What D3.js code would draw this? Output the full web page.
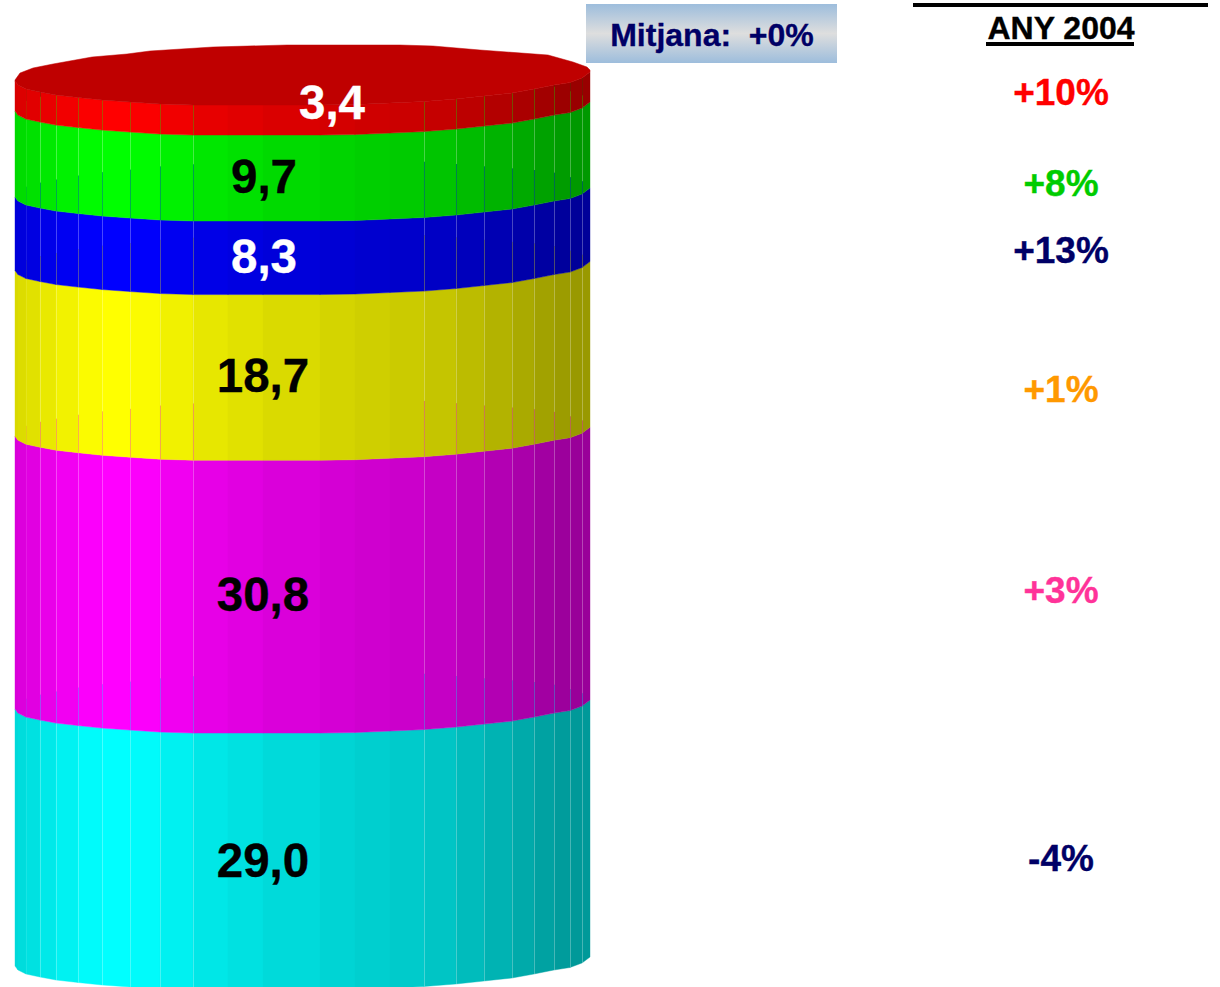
<!DOCTYPE html>
<html><head><meta charset="utf-8">
<script src="https://cdn.jsdelivr.net/npm/d3@7"></script>
<style>html,body{margin:0;padding:0;background:#fff;overflow:hidden}svg{display:block}text{font-family:"Liberation Sans",Arial,sans-serif;font-weight:bold;stroke:currentColor;stroke-width:.35px}</style>
</head><body><svg id="c" width="1220" height="987"></svg>
<script>
// bottom to top
const categories=["cian","magenta","groc","blau","verd","vermell"];
const values=[29.0,30.8,18.7,8.3,9.7,3.4];
const valueLabels=["29,0","30,8","18,7","8,3","9,7","3,4"];
const changes=["-4%","+3%","+1%","+13%","+8%","+10%"];
const headerLines=["VARIACIÓ RESPECTE","ANY 2004"];
const meanLabel="Mitjana:  +0%";

const fills=["#00ffff","#ff00ff","#ffff00","#0000ff","#00ff00","#ff0000"];
const labelFills=["#000","#000","#000","#fff","#000","#fff"];
const changeFills=["#000066","#ff3399","#ff9900","#000066","#00cc00","#ff0000"];
const labelPos=[[263,877],[263,611],[263,392],[264,273],[264,193],[332,119]];
const changeBase=[871,603,402,263,196,105];

// Cylinder shape: facet edges, and how far the front rim rises at each one
const seamX=[15,18,26,40,56,78,102,130,160,193,228,263,320,355,390,424,456,484,512,534,554,570,582,590];
const rimRise=[24,20,16,13,10,7.5,5,3,1,0,0,0,0,.5,2,3.5,6,9,12,16,20,22.5,27,33];
const visibleSeam=x=>!(x>193&&x<424)&&x>18&&x!==590;
const backX=[15,20,33,53,92,127,150,213,287,400,433,480,548,573,587,590];
const backY=[80,73,68,64,57,54,51,47,45,45,46,50,55,62,67,70];
const shadeX=[15,78,102,130,160,193,263,355,424,484,534,570,590];
const shadeK=[.85,.97,1,1,.97,.92,.87,.82,.79,.72,.65,.6,.6];

const total=d3.sum(values);
const y=d3.scaleLinear().domain([0,total]).range([990,105]);
const rise=d3.scaleLinear().domain(seamX).range(rimRise);
const backRim=d3.scaleLinear().domain(backX).range(backY);
const shade=d3.scaleLinear().domain(shadeX).range(shadeK);
const cum=[0];values.forEach(v=>cum.push(cum[cum.length-1]+v));
const front=(v,x)=>y(v)-rise(x);
const back=(v,x)=>backRim(x)-105+y(v);
const seamAlpha=(x,a)=>x<30?a*.35:a;

const svg=d3.select("#c");
const dark=(c,k)=>{const r=d3.rgb(c);return d3.rgb(r.r*k,r.g*k,r.b*k).formatHex();};
const facets=d3.pairs(seamX);

categories.forEach((cat,i)=>{
  const g=svg.append("g").attr("class","seg "+cat);
  g.selectAll("path").data(facets).join("path")
    .attr("d",([a,b])=>`M${a},${front(cum[i+1],a)}L${b},${front(cum[i+1],b)}L${b},${front(cum[i],b)}L${a},${front(cum[i],a)}Z`)
    .attr("fill",([a,b])=>dark(fills[i],shade((a+b)/2)))
    .attr("stroke",([a,b])=>dark(fills[i],shade((a+b)/2)))
    .attr("stroke-width",.4);
  const xs=seamX.filter(visibleSeam);
  // light part of each seam, then the tint of the layer below seen through it
  g.selectAll("line.up").data(xs).join("line").attr("class","up")
    .attr("x1",x=>x+.5).attr("x2",x=>x+.5)
    .attr("y1",x=>front(cum[i+1],x))
    .attr("y2",x=>i===0?front(cum[i],x):Math.max(front(cum[i+1],x),back(cum[i],x)))
    .attr("stroke",i===5?"#404000":"#fff").attr("stroke-opacity",x=>seamAlpha(x,i===5?.35:.28)).attr("stroke-width",1);
  if(i>0) g.selectAll("line.low").data(xs).join("line").attr("class","low")
    .attr("x1",x=>x+.5).attr("x2",x=>x+.5)
    .attr("y1",x=>Math.max(front(cum[i+1],x),back(cum[i],x)))
    .attr("y2",x=>front(cum[i],x))
    .attr("stroke",fills[i-1]).attr("stroke-opacity",x=>seamAlpha(x,.3)).attr("stroke-width",1);
});

// top face
const topFace=d3.line()(seamX.map(x=>[x,front(total,x)]).concat(backX.slice().reverse().map(x=>[x,backRim(x)])))+"Z";
svg.append("path").attr("d",topFace).attr("fill","#bf0000").attr("stroke","#bf0000").attr("stroke-width",.5);

svg.selectAll("text.val").data(valueLabels).join("text").attr("class","val")
  .attr("x",(d,i)=>labelPos[i][0]).attr("y",(d,i)=>labelPos[i][1])
  .attr("text-anchor","middle").attr("font-size",47.5).attr("fill",(d,i)=>labelFills[i]).style("color",(d,i)=>labelFills[i]).text(d=>d);

svg.selectAll("text.chg").data(changes).join("text").attr("class","chg")
  .attr("x",1061).attr("y",(d,i)=>changeBase[i])
  .attr("text-anchor","middle").attr("font-size",37).attr("fill",(d,i)=>changeFills[i]).style("color",(d,i)=>changeFills[i]).text(d=>d);

// header, first line cut off by the top of the picture
svg.append("text").attr("x",1061).attr("y",-.5).attr("text-anchor","middle").attr("font-size",32).attr("fill","#000").style("color","#000").style("stroke","none")
  .attr("textLength",295).attr("lengthAdjust","spacingAndGlyphs").text(headerLines[0]);
svg.append("rect").attr("x",913).attr("y",3).attr("width",295).attr("height",4).attr("fill","#000");
svg.append("text").attr("x",1061).attr("y",39).attr("text-anchor","middle").attr("font-size",32).attr("fill","#000").style("color","#000").text(headerLines[1]);
svg.append("rect").attr("x",986).attr("y",42).attr("width",148).attr("height",4).attr("fill","#000");

// mean box
const grad=svg.append("defs").append("linearGradient").attr("id","mb").attr("x1",0).attr("x2",0).attr("y1",0).attr("y2",1);
[[0,"#9dbddc"],[.5,"#dedede"],[1,"#9dbddc"]].forEach(([o,c])=>grad.append("stop").attr("offset",o).attr("stop-color",c));
svg.append("rect").attr("x",586).attr("y",4).attr("width",251).attr("height",59).attr("fill","url(#mb)");
svg.append("text").attr("x",712).attr("y",46).attr("text-anchor","middle").attr("font-size",32).attr("fill","#000066").style("color","#000066")
  .style("white-space","pre").text(meanLabel);
</script></body></html>
